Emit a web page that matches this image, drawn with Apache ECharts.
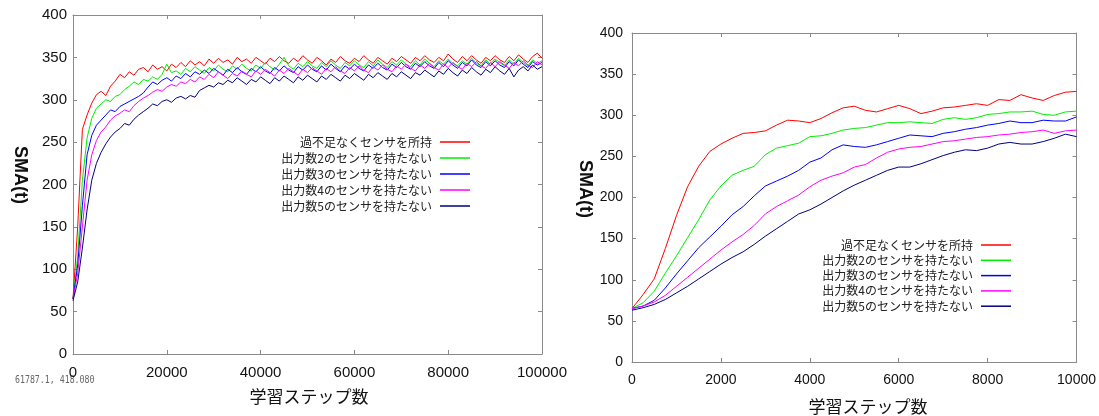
<!DOCTYPE html>
<html><head><meta charset="utf-8">
<script src="https://cdn.jsdelivr.net/npm/echarts@6/dist/echarts.min.js"></script>
<style>html,body{margin:0;padding:0;background:#fff}#c{width:1099px;height:416px}</style>
</head><body><div id="c"></div><script>
const seriesNames = ['過不足なくセンサを所持','出力数2のセンサを持たない','出力数3のセンサを持たない','出力数4のセンサを持たない','出力数5のセンサを持たない'];
const seriesColors = ['#ff0000','#00ee00','#0000ff','#ff00ff','#000080'];
const xAxisTitle = '学習ステップ数';
const yAxisTitle = 'SMA(t)';
const cursorText = '61787.1, 418.080';

// Left panel: 0..100000, one value every 1000 steps
const leftStep = 1000;
const leftRed = [65,150,265,282,296,306,310,305,316,322,330,326,333,329,336,338,333,341,336,339,334,342,338,344,339,346,341,345,340,348,343,349,344,347,342,350,345,348,343,350,346,342,349,345,351,346,343,349,345,352,347,343,350,346,341,348,344,351,346,343,349,345,352,347,343,350,346,342,349,345,351,347,343,350,346,352,347,344,350,346,354,348,344,351,346,352,347,343,350,346,352,347,344,351,346,353,348,344,351,355,349];
const leftGreen = [65,115,205,255,278,290,295,300,298,304,306,312,316,321,318,324,322,327,324,330,342,332,334,330,337,333,339,335,331,338,334,341,336,333,340,336,342,337,334,341,337,344,339,335,342,350,340,336,343,339,345,340,337,344,339,346,341,337,344,340,346,341,338,345,340,347,342,338,345,341,347,342,339,346,341,348,343,339,346,342,348,343,340,346,342,349,343,340,347,342,348,344,340,347,342,349,344,340,347,343,346];
const leftBlue = [65,105,175,235,258,270,276,282,288,286,292,295,298,301,304,308,315,321,318,323,326,322,328,325,331,327,333,330,335,331,337,333,329,336,332,338,333,330,337,333,339,334,331,338,334,340,335,332,339,335,341,336,333,340,335,342,337,333,340,336,342,337,334,341,337,343,338,335,342,338,344,339,336,343,339,345,340,337,344,339,346,341,337,344,340,347,341,338,345,340,346,341,338,345,340,347,342,338,345,341,344];
const leftMagenta = [65,95,150,205,235,252,262,268,276,281,284,288,286,293,298,302,305,309,312,310,315,318,316,321,319,324,321,327,324,330,326,333,329,325,331,328,334,330,327,334,330,336,332,328,335,331,337,333,329,336,332,338,334,330,337,333,339,334,331,338,334,340,335,332,339,335,341,336,333,340,336,342,337,334,341,337,343,338,335,342,338,344,339,336,343,339,345,340,337,344,339,345,341,337,344,340,346,341,338,345,341];
const leftNavy = [63,85,125,170,205,225,238,248,256,262,266,272,270,277,282,286,290,295,293,298,300,297,302,304,301,305,303,311,314,317,315,320,318,323,320,326,322,318,324,321,327,323,319,326,322,328,324,320,327,323,329,325,321,328,324,330,326,322,329,325,331,327,323,330,326,332,328,324,331,327,333,329,325,332,329,335,331,327,334,330,337,332,328,335,331,338,333,329,336,332,339,334,330,337,327,335,339,334,341,336,339];

// Right panel: 0..10000, one value every 250 steps
const rightStep = 250;
const rightRed = [65,82,101,138,178,213,238,256,265,272,278,279,281,288,294,293,291,296,303,309,311,306,304,308,312,308,302,305,309,310,312,314,312,319,318,325,321,318,324,328,329];
const rightGreen = [65,72,86,108,129,151,173,197,214,227,233,238,252,260,263,266,274,275,278,282,284,285,288,291,291,292,291,290,295,297,295,297,301,302,304,304,305,301,300,304,305];
const rightBlue = [65,68,75,90,107,123,139,152,165,179,189,202,214,220,226,233,243,248,258,264,262,261,264,268,272,276,275,274,278,280,283,285,288,290,293,291,291,294,293,293,298];
const rightMagenta = [65,68,73,81,92,103,114,125,136,146,155,166,180,189,196,203,213,221,226,230,237,240,248,255,259,261,262,265,268,269,271,273,274,276,277,279,280,282,278,281,282];
const rightNavy = [63,66,70,76,84,92,101,110,119,127,134,143,153,162,171,180,185,192,200,208,215,221,227,233,237,237,241,246,251,255,258,257,260,265,267,265,265,268,272,277,274];

const leftX = {min:0, max:100000, interval:20000};
const rightX = {min:0, max:10000, interval:2000};
const yScale = {min:0, max:400, interval:50};

const leftSets = [leftRed,leftGreen,leftBlue,leftMagenta,leftNavy];
const rightSets = [rightRed,rightGreen,rightBlue,rightMagenta,rightNavy];

const axisColor = '#8a8a8a';
const plain = v => String(v);
function mkX(grid, sc, pos, show, fs){
  return {type:'value', gridIndex:grid, position:pos, min:sc.min, max:sc.max, interval:sc.interval,
    axisLine:{show:true, onZero:false, lineStyle:{color:axisColor, width:1}},
    axisTick:{show:true, inside:true, length:4, lineStyle:{color:axisColor}},
    axisLabel:{show:show, margin:11, color:'#111', fontSize:fs, fontFamily:'Liberation Sans, Arial', showMinLabel:true, showMaxLabel:true, formatter:plain},
    splitLine:{show:false}};
}
function mkY(grid, pos, show, fs, margin){
  return {type:'value', gridIndex:grid, position:pos, min:yScale.min, max:yScale.max, interval:yScale.interval,
    axisLine:{show:true, onZero:false, lineStyle:{color:axisColor, width:1}},
    axisTick:{show:true, inside:true, length:4, lineStyle:{color:axisColor}},
    axisLabel:{show:show, margin:margin, color:'#111', fontSize:fs, fontFamily:'Liberation Sans, Arial', formatter:plain},
    splitLine:{show:false}};
}

const series = [];
leftSets.forEach((arr, k) => {
  series.push({name:seriesNames[k], type:'line', xAxisIndex:0, yAxisIndex:0, showSymbol:false, symbol:'none',
    data: arr.map((v,i)=>[i*leftStep, v]), lineStyle:{width:1, color:seriesColors[k]}, itemStyle:{color:seriesColors[k]}, animation:false});
});
rightSets.forEach((arr, k) => {
  series.push({name:seriesNames[k], type:'line', xAxisIndex:2, yAxisIndex:2, showSymbol:false, symbol:'none',
    data: arr.map((v,i)=>[i*rightStep, v]), lineStyle:{width:1, color:seriesColors[k]}, itemStyle:{color:seriesColors[k]}, animation:false});
});

const legendText = {fontSize:12, lineHeight:14, color:'#222', fontFamily:'Noto Sans CJK JP', padding:[0,3,0,0]};
const option = {
  backgroundColor:'#fff',
  animation:false,
  grid:[
    {left:73, top:15, width:469, height:339, show:false},
    {left:632, top:33, width:445, height:329, show:false}
  ],
  xAxis:[mkX(0,leftX,'bottom',true,15), mkX(0,leftX,'top',false,15), mkX(1,rightX,'bottom',true,14), mkX(1,rightX,'top',false,14)],
  yAxis:[mkY(0,'left',true,15,6), mkY(0,'right',false,15,6), mkY(1,'left',true,14,9), mkY(1,'right',false,14,9)],
  legend:[
    {orient:'vertical', right:629, top:135, padding:0, align:'right', icon:'rect', itemWidth:30, itemHeight:1.5, itemGap:2, data:seriesNames, textStyle:legendText, selectedMode:false},
    {orient:'vertical', right:88, top:238, padding:0, align:'right', icon:'rect', itemWidth:30, itemHeight:1.5, itemGap:1.3, data:seriesNames, textStyle:legendText, selectedMode:false}
  ],
  graphic:[
    {type:'text', x:309, y:397, style:{text:xAxisTitle, font:'17px "Noto Sans CJK JP"', fill:'#111', textAlign:'center', textVerticalAlign:'middle'}},
    {type:'text', x:868, y:407, style:{text:xAxisTitle, font:'17px "Noto Sans CJK JP"', fill:'#111', textAlign:'center', textVerticalAlign:'middle'}},
    {type:'text', x:20, y:175, rotation:-Math.PI/2, style:{text:yAxisTitle, font:'bold 18px "Liberation Sans"', fill:'#111', textAlign:'center', textVerticalAlign:'middle'}},
    {type:'text', x:585, y:189, rotation:-Math.PI/2, style:{text:yAxisTitle, font:'bold 18px "Liberation Sans"', fill:'#111', textAlign:'center', textVerticalAlign:'middle'}},
    {type:'text', x:15, y:380, scaleX:0.75, style:{text:cursorText, font:'11px "DejaVu Sans Mono"', fill:'#666', textAlign:'left', textVerticalAlign:'middle'}}
  ],
  series: series
};
const chart = echarts.init(document.getElementById('c'), null, {renderer:'canvas'});
chart.setOption(option);
</script></body></html>
